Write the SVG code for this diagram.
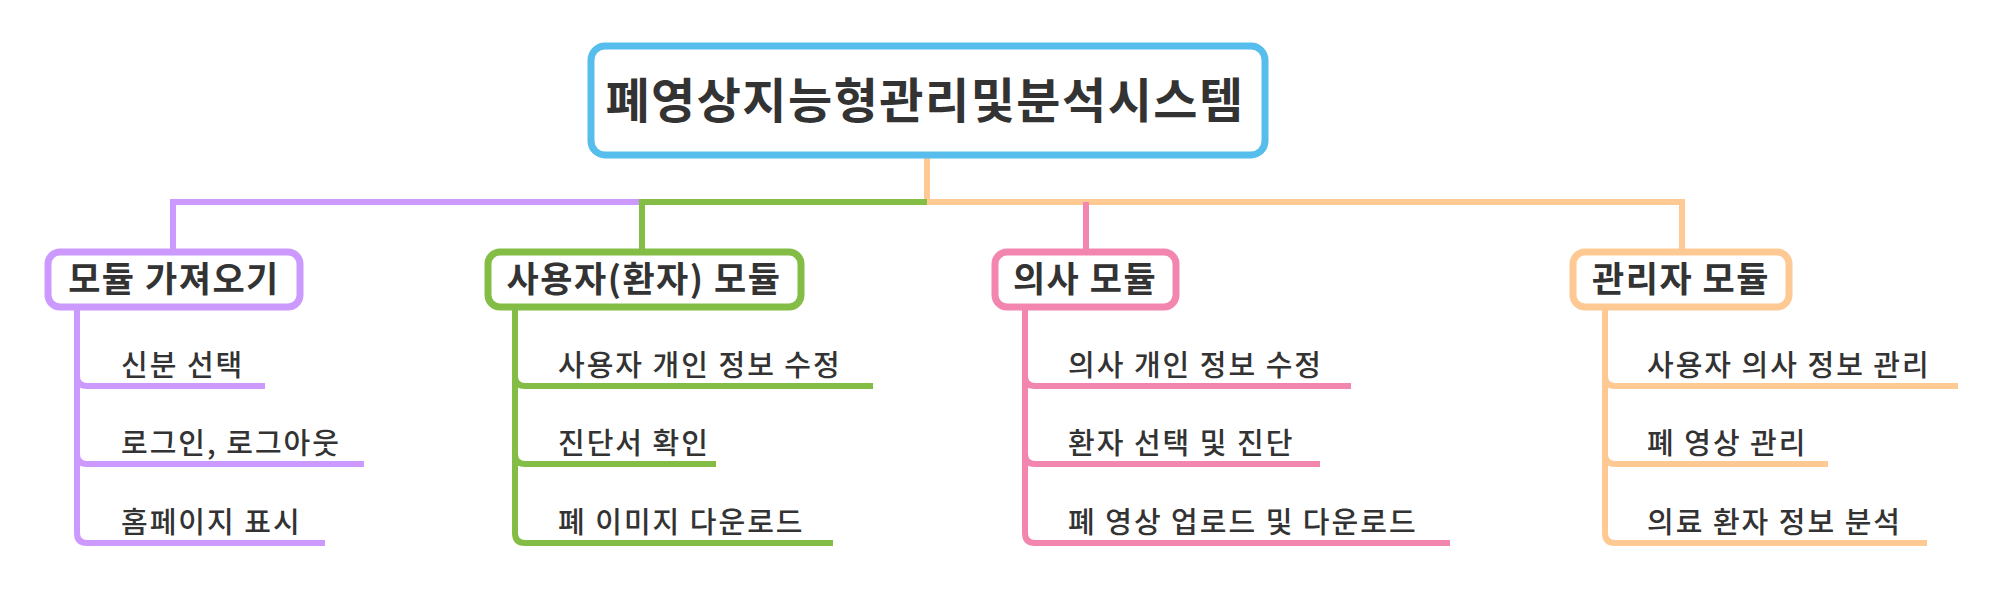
<svg xmlns="http://www.w3.org/2000/svg" width="2004" height="605" viewBox="0 0 2004 605">
<style>
text{font-family:"Noto Sans CJK KR","Noto Sans",sans-serif;fill:#333;font-weight:bold}
.root{font-size:48px;letter-spacing:1.5px}
.mod{font-size:35px;text-anchor:middle;letter-spacing:1.5px}
.leaf{font-size:29px;font-weight:500;letter-spacing:2px}
.c path,.c line{fill:none;stroke-width:6}
.box{fill:#fff;stroke-width:7}
.p{stroke:#CC99FF}.g{stroke:#84BD45}.k{stroke:#F286AF}.o{stroke:#FFC994}
</style>
<rect width="2004" height="605" fill="#fff"/>
<g id="connectors" class="c">
<path class="o" d="M927,155 V202 H1682 V252"/>
<path class="p" d="M639,202 H173 V252"/>
<path class="g" d="M927,202 H642 V252"/>
<path class="k" d="M1086,202 V252"/>
<path class="p" d="M77,307 V376 Q77,386 87,386 H265 M77,307 V454 Q77,464 87,464 H364 M77,307 V533 Q77,543 87,543 H325"/>
<path class="g" d="M515,307 V376 Q515,386 525,386 H873 M515,307 V454 Q515,464 525,464 H716 M515,307 V533 Q515,543 525,543 H833"/>
<path class="k" d="M1025,307 V376 Q1025,386 1035,386 H1351 M1025,307 V454 Q1025,464 1035,464 H1320 M1025,307 V533 Q1025,543 1035,543 H1450"/>
<path class="o" d="M1605,307 V376 Q1605,386 1615,386 H1958 M1605,307 V454 Q1605,464 1615,464 H1828 M1605,307 V533 Q1605,543 1615,543 H1927"/>
</g>
<g id="root"><rect class="box" x="591" y="46" width="674" height="109" rx="14" stroke="#56BDEC"/><text class="root" x="925" y="118" text-anchor="middle">폐영상지능형관리및분석시스템</text></g>
<g id="m1"><rect class="box p" x="48" y="252" width="252" height="55" rx="12"/><text class="mod" x="174" y="292">모듈 가져오기</text></g>
<g id="m2"><rect class="box g" x="488" y="252" width="313" height="55" rx="12"/><text class="mod" x="644" y="292">사용자(환자) 모듈</text></g>
<g id="m3"><rect class="box k" x="995" y="252" width="181" height="55" rx="12"/><text class="mod" x="1085" y="292">의사 모듈</text></g>
<g id="m4"><rect class="box o" x="1573" y="252" width="216" height="55" rx="12"/><text class="mod" x="1681" y="292">관리자 모듈</text></g>
<g id="leaves">
<text class="leaf" x="121" y="376">신분 선택</text>
<text class="leaf" x="121" y="454">로그인, 로그아웃</text>
<text class="leaf" x="121" y="533">홈페이지 표시</text>
<text class="leaf" x="558" y="376">사용자 개인 정보 수정</text>
<text class="leaf" x="558" y="454">진단서 확인</text>
<text class="leaf" x="558" y="533">폐 이미지 다운로드</text>
<text class="leaf" x="1068" y="376">의사 개인 정보 수정</text>
<text class="leaf" x="1068" y="454">환자 선택 및 진단</text>
<text class="leaf" x="1068" y="533">폐 영상 업로드 및 다운로드</text>
<text class="leaf" x="1647" y="376">사용자 의사 정보 관리</text>
<text class="leaf" x="1647" y="454">폐 영상 관리</text>
<text class="leaf" x="1647" y="533">의료 환자 정보 분석</text>
</g>
</svg>
